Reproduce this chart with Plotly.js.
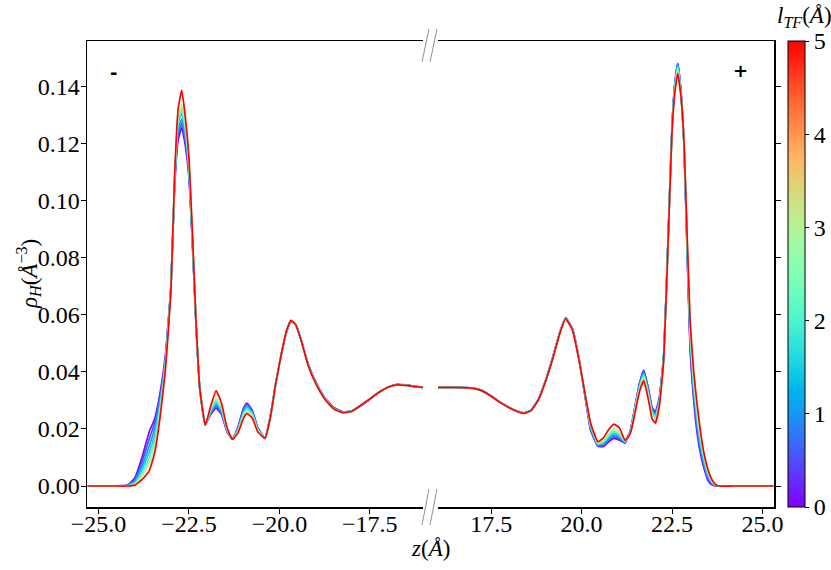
<!DOCTYPE html>
<html>
<head>
<meta charset="utf-8">
<script src="https://cdn.plot.ly/plotly-3.0.1.min.js"></script>
<style>
  html, body { margin: 0; padding: 0; background: #fff; }
  #chart { width: 831px; height: 570px; }
</style>
</head>
<body>
<div id="chart"></div>
<script>
// Thomas-Fermi screening length of each curve (Å)
var lTF = [0, 0.5, 1, 1.5, 2, 3, 5];

// z positions (Å), negative electrode side and positive electrode side
var zLeft = [-25.3, -24.6, -24.2, -24.0, -23.8, -23.6, -23.45, -23.3, -23.15, -23.0,
  -22.9, -22.8, -22.7, -22.6, -22.5, -22.4, -22.3, -22.2, -22.05, -21.9,
  -21.75, -21.6, -21.45, -21.3, -21.15, -21.0, -20.9, -20.75, -20.6, -20.4,
  -20.25, -20.1, -19.95, -19.8, -19.68, -19.55, -19.4, -19.2, -19.0, -18.75,
  -18.5, -18.25, -18.0, -17.75, -17.5, -17.25, -17.0, -16.75, -16.5, -16.25, -16.0];
var zRight = [16.0, 16.5, 17.0, 17.25, 17.5, 17.75, 18.0, 18.2, 18.4, 18.6,
  18.8, 19.0, 19.2, 19.4, 19.56, 19.75, 19.93, 20.1, 20.25, 20.45,
  20.6, 20.75, 20.9, 21.05, 21.2, 21.35, 21.5, 21.6, 21.72, 21.85,
  21.95, 22.04, 22.15, 22.27, 22.4, 22.5, 22.58, 22.66, 22.75, 22.83,
  22.9, 23.0, 23.1, 23.2, 23.3, 23.4, 23.5, 23.6, 23.7, 23.8, 24.2, 25.3];

// rho_H (Å^-3), left side, one array per lTF
var rhoL_0 = [0, 0, 0.0003, 0.0028, 0.010, 0.019, 0.0235, 0.0325, 0.046, 0.070,
  0.104, 0.121, 0.1255, 0.119, 0.108, 0.083, 0.055, 0.034, 0.0215, 0.025,
  0.0272, 0.025, 0.019, 0.0165, 0.0205, 0.027, 0.029, 0.0265, 0.0205, 0.0168,
  0.0245, 0.036, 0.046, 0.054, 0.0575, 0.0565, 0.0512, 0.0425, 0.0365, 0.031,
  0.0275, 0.026, 0.0262, 0.028, 0.0303, 0.0327, 0.0346, 0.0356, 0.0354, 0.0349, 0.0345];
var rhoL_05 = [0, 0, 0.0002, 0.0022, 0.0085, 0.0165, 0.022, 0.031, 0.045, 0.070,
  0.105, 0.123, 0.127, 0.121, 0.109, 0.084, 0.055, 0.034, 0.0215, 0.0254,
  0.0278, 0.0255, 0.0192, 0.0165, 0.0202, 0.0265, 0.0287, 0.0262, 0.0203, 0.0168,
  0.0244, 0.036, 0.046, 0.054, 0.0576, 0.0565, 0.0511, 0.0424, 0.0364, 0.0309,
  0.0274, 0.0259, 0.0262, 0.0281, 0.0304, 0.0327, 0.0346, 0.0355, 0.0353, 0.0349, 0.0345];
var rhoL_1 = [0, 0, 0.0001, 0.0017, 0.007, 0.014, 0.020, 0.030, 0.044, 0.0695,
  0.105, 0.125, 0.1285, 0.122, 0.110, 0.084, 0.0555, 0.034, 0.0214, 0.0258,
  0.0285, 0.026, 0.0194, 0.0164, 0.0198, 0.026, 0.0282, 0.0258, 0.0201, 0.0167,
  0.0243, 0.036, 0.046, 0.0542, 0.0577, 0.0565, 0.0511, 0.0423, 0.0363, 0.0308,
  0.0273, 0.0259, 0.0262, 0.0282, 0.0304, 0.0328, 0.0346, 0.0355, 0.0353, 0.0348, 0.0345];
var rhoL_15 = [0, 0, 0.0001, 0.0012, 0.0057, 0.0118, 0.018, 0.0288, 0.0435, 0.069,
  0.106, 0.127, 0.1305, 0.124, 0.111, 0.085, 0.0555, 0.034, 0.0214, 0.0262,
  0.029, 0.0265, 0.0196, 0.0164, 0.0195, 0.0255, 0.0276, 0.0254, 0.0199, 0.0167,
  0.0242, 0.036, 0.046, 0.0543, 0.0578, 0.0565, 0.0511, 0.0422, 0.0362, 0.0307,
  0.0272, 0.0258, 0.0262, 0.0282, 0.0305, 0.0328, 0.0346, 0.0355, 0.0353, 0.0348, 0.0345];
var rhoL_2 = [0, 0, 0, 0.0009, 0.0045, 0.0098, 0.016, 0.0275, 0.043, 0.069,
  0.106, 0.128, 0.132, 0.125, 0.112, 0.085, 0.056, 0.034, 0.0213, 0.0266,
  0.0298, 0.027, 0.0198, 0.0164, 0.0192, 0.025, 0.027, 0.025, 0.0197, 0.0167,
  0.0241, 0.036, 0.046, 0.0544, 0.0579, 0.0565, 0.051, 0.0421, 0.0361, 0.0306,
  0.0271, 0.0258, 0.0262, 0.0283, 0.0305, 0.0328, 0.0346, 0.0354, 0.0352, 0.0348, 0.0345];
var rhoL_3 = [0, 0, 0, 0.0006, 0.0035, 0.008, 0.0135, 0.026, 0.042, 0.0685,
  0.107, 0.129, 0.1335, 0.126, 0.113, 0.086, 0.056, 0.034, 0.0213, 0.0272,
  0.0308, 0.0277, 0.020, 0.0163, 0.019, 0.0245, 0.0265, 0.0246, 0.0195, 0.0167,
  0.024, 0.036, 0.046, 0.0545, 0.058, 0.0565, 0.051, 0.042, 0.036, 0.0305,
  0.027, 0.0257, 0.0262, 0.0283, 0.0305, 0.0328, 0.0346, 0.0354, 0.0352, 0.0348, 0.0345];
var rhoL_5 = [0, 0, 0, 0.0003, 0.0022, 0.0053, 0.0115, 0.024, 0.041, 0.068,
  0.108, 0.132, 0.1386, 0.129, 0.115, 0.087, 0.056, 0.034, 0.0213, 0.028,
  0.0334, 0.029, 0.0205, 0.0163, 0.0185, 0.0235, 0.0254, 0.0238, 0.019, 0.0167,
  0.024, 0.036, 0.046, 0.0545, 0.058, 0.0565, 0.051, 0.042, 0.036, 0.0305,
  0.027, 0.0257, 0.0262, 0.0283, 0.0305, 0.0328, 0.0346, 0.0354, 0.0352, 0.0348, 0.0345];

// rho_H (Å^-3), right side
var rhoR_0 = [0.0345, 0.0345, 0.0343, 0.0334, 0.0315, 0.0293, 0.0275, 0.0263, 0.0256, 0.0265,
  0.0302, 0.0368, 0.045, 0.054, 0.059, 0.055, 0.0445, 0.031, 0.0195, 0.014,
  0.0138, 0.0155, 0.0167, 0.016, 0.015, 0.0195, 0.0295, 0.036, 0.0406, 0.034,
  0.0275, 0.026, 0.031, 0.046, 0.090, 0.126, 0.141, 0.1478, 0.138, 0.120,
  0.090, 0.048, 0.030, 0.018, 0.0105, 0.0055, 0.0018, 0.0004, 0, 0, 0, 0];
var rhoR_05 = [0.0345, 0.0345, 0.0343, 0.0334, 0.0315, 0.0293, 0.0275, 0.0263, 0.0256, 0.0265,
  0.0302, 0.0368, 0.0449, 0.0539, 0.0589, 0.0549, 0.0444, 0.0312, 0.0198, 0.0142,
  0.0142, 0.016, 0.0172, 0.0165, 0.0152, 0.0194, 0.0292, 0.0356, 0.0402, 0.0335,
  0.027, 0.0255, 0.0305, 0.0457, 0.0897, 0.1257, 0.1412, 0.148, 0.1378, 0.1202,
  0.0908, 0.0495, 0.0315, 0.0195, 0.0115, 0.0063, 0.0024, 0.0007, 0.0001, 0, 0, 0];
var rhoR_1 = [0.0345, 0.0345, 0.0343, 0.0334, 0.0315, 0.0293, 0.0275, 0.0263, 0.0255, 0.0265,
  0.0302, 0.0367, 0.0448, 0.0538, 0.0588, 0.0548, 0.0443, 0.0314, 0.0203, 0.0144,
  0.0146, 0.0165, 0.0178, 0.017, 0.0153, 0.0192, 0.0289, 0.0352, 0.0397, 0.033,
  0.0265, 0.025, 0.030, 0.0453, 0.0894, 0.1253, 0.1408, 0.1477, 0.1375, 0.1204,
  0.0916, 0.051, 0.033, 0.021, 0.0127, 0.0071, 0.003, 0.001, 0.0002, 0, 0, 0];
var rhoR_15 = [0.0345, 0.0345, 0.0343, 0.0334, 0.0315, 0.0293, 0.0275, 0.0263, 0.0255, 0.0265,
  0.0301, 0.0367, 0.0447, 0.0537, 0.0587, 0.0547, 0.0442, 0.0316, 0.0208, 0.0146,
  0.015, 0.017, 0.0185, 0.0175, 0.0155, 0.0191, 0.0286, 0.0348, 0.0392, 0.0325,
  0.026, 0.0245, 0.0295, 0.045, 0.089, 0.125, 0.1402, 0.147, 0.137, 0.1206,
  0.0924, 0.0525, 0.0345, 0.0225, 0.0139, 0.0079, 0.0036, 0.0013, 0.0003, 0, 0, 0];
var rhoR_2 = [0.0345, 0.0345, 0.0342, 0.0333, 0.0314, 0.0292, 0.0274, 0.0262, 0.0255, 0.0264,
  0.0301, 0.0366, 0.0446, 0.0536, 0.0586, 0.0546, 0.0441, 0.0318, 0.0212, 0.0148,
  0.0154, 0.0176, 0.0192, 0.018, 0.0156, 0.019, 0.0283, 0.0344, 0.0387, 0.032,
  0.0255, 0.024, 0.029, 0.0447, 0.0887, 0.1247, 0.1396, 0.1465, 0.1367, 0.1207,
  0.0932, 0.054, 0.036, 0.024, 0.015, 0.0087, 0.0042, 0.0016, 0.0004, 0, 0, 0];
var rhoR_3 = [0.0345, 0.0345, 0.0342, 0.0333, 0.0314, 0.0292, 0.0274, 0.0262, 0.0254, 0.0264,
  0.030, 0.0366, 0.0446, 0.0536, 0.0586, 0.0546, 0.0441, 0.0319, 0.0216, 0.015,
  0.0158, 0.0182, 0.020, 0.0187, 0.0158, 0.0188, 0.028, 0.034, 0.038, 0.0313,
  0.025, 0.023, 0.0288, 0.0444, 0.0884, 0.1244, 0.139, 0.146, 0.1364, 0.1208,
  0.094, 0.0555, 0.0375, 0.0255, 0.0162, 0.0095, 0.0048, 0.0019, 0.0005, 0, 0, 0];
var rhoR_5 = [0.0345, 0.0345, 0.0342, 0.0333, 0.0314, 0.0292, 0.0274, 0.0262, 0.0254, 0.0264,
  0.030, 0.0365, 0.0445, 0.0535, 0.0585, 0.0545, 0.044, 0.032, 0.022, 0.0155,
  0.0168, 0.0198, 0.0217, 0.0203, 0.016, 0.0185, 0.027, 0.033, 0.0369, 0.030,
  0.0235, 0.022, 0.028, 0.044, 0.088, 0.124, 0.138, 0.1445, 0.136, 0.121,
  0.095, 0.058, 0.040, 0.028, 0.018, 0.0105, 0.0055, 0.0023, 0.0006, 0, 0, 0];

var leftSets = [rhoL_0, rhoL_05, rhoL_1, rhoL_15, rhoL_2, rhoL_3, rhoL_5];
var rightSets = [rhoR_0, rhoR_05, rhoR_1, rhoR_15, rhoR_2, rhoR_3, rhoR_5];

var yTicks = [0, 0.02, 0.04, 0.06, 0.08, 0.10, 0.12, 0.14];
var xTicksL = [-25, -22.5, -20, -17.5];
var xTickTextL = ["\u221225.0", "\u221222.5", "\u221220.0", "\u221217.5"];
var xTicksR = [17.5, 20, 22.5, 25];
var xTickTextR = ["17.5", "20.0", "22.5", "25.0"];
var cbTicks = [0, 1, 2, 3, 4, 5];

// matplotlib "rainbow" colormap
function rainbow(t) {
  var r = Math.min(1, Math.abs(2 * t - 0.5));
  var g = Math.sin(Math.PI * t);
  var b = Math.cos(Math.PI * t / 2);
  return "rgb(" + Math.round(r * 255) + "," + Math.round(g * 255) + "," + Math.round(b * 255) + ")";
}
var cscale = [];
for (var k = 0; k <= 20; k++) cscale.push([k / 20, rainbow(k / 20)]);

var serif = "Liberation Serif";
var lmax = 5;
var traces = [];
for (var i = 0; i < lTF.length; i++) {
  var col = rainbow(lTF[i] / lmax);
  traces.push({x: zLeft, y: leftSets[i], xaxis: "x", yaxis: "y", type: "scatter", mode: "lines",
    line: {color: col, width: 1.7, shape: "spline", smoothing: 0.4}, showlegend: false, hoverinfo: "skip"});
  traces.push({x: zRight, y: rightSets[i], xaxis: "x2", yaxis: "y2", type: "scatter", mode: "lines",
    line: {color: col, width: 1.7, shape: "spline", smoothing: 0.4}, showlegend: false, hoverinfo: "skip"});
}

// plot area: x 87..774 px, y 41..507 px
var L = 87, R = 774, T = 41, B = 507;
function px(x) { return (x - L) / (R - L); }
function py(y) { return (B - y) / (B - T); }

// invisible trace that carries the colorbar
traces.push({x: [zRight[0], zRight[0]], y: [rhoR_5[0], rhoR_5[0]], xaxis: "x2", yaxis: "y2",
  type: "scatter", mode: "markers", showlegend: false, hoverinfo: "skip",
  marker: {size: 1, opacity: 0, color: [lTF[0], lTF[lTF.length - 1]], colorscale: cscale,
    cmin: 0, cmax: 5, showscale: true,
    colorbar: {x: px(788), xanchor: "left", y: 0.5, yanchor: "middle", len: 1, lenmode: "fraction",
      thickness: 17, thicknessmode: "pixels", xpad: 0, ypad: 0, outlinewidth: 1, outlinecolor: "black",
      ticks: "outside", ticklen: 4, tickcolor: "black", tickvals: cbTicks,
      tickfont: {family: serif, size: 24, color: "black"}}}});

var breakStyle = {color: "#909090", width: 1};
var shapes = [
  [422, 62, 429, 29], [430, 62, 437, 29],
  [422, 525, 429, 489], [430, 525, 437, 489]
].map(function (s) {
  return {type: "line", xref: "paper", yref: "paper", x0: px(s[0]), y0: py(s[1]), x1: px(s[2]), y1: py(s[3]), line: breakStyle};
});

var axisCommon = {
  showgrid: false, zeroline: false, showline: true, linecolor: "black", linewidth: 1.5,
  ticks: "outside", ticklen: 5, tickwidth: 1, tickcolor: "black",
  tickfont: {family: serif, size: 24, color: "black"}
};

function label(x, y, text, extra) {
  return Object.assign({xref: "paper", yref: "paper", x: px(x), y: py(y), xanchor: "center", yanchor: "middle",
    text: text, showarrow: false, font: {family: serif, size: 23, color: "black"}}, extra || {});
}

var layout = {
  width: 831, height: 570,
  margin: {l: L, r: 831 - R, t: T, b: 570 - B, autoexpand: false},
  paper_bgcolor: "white", plot_bgcolor: "white",
  xaxis: Object.assign({}, axisCommon, {domain: [0, px(423)], range: [-25.32, -16.03], anchor: "y",
    mirror: true, tickvals: xTicksL, ticktext: xTickTextL, ticklabelstandoff: -10}),
  xaxis2: Object.assign({}, axisCommon, {domain: [px(438), 1], range: [16.03, 25.32], anchor: "y2",
    mirror: true, tickvals: xTicksR, ticktext: xTickTextR, ticklabelstandoff: -10}),
  yaxis: Object.assign({}, axisCommon, {range: [-0.00735, 0.1558], anchor: "x", tickvals: yTicks,
    tickformat: ".2f", ticklabelstandoff: -4}),
  yaxis2: Object.assign({}, axisCommon, {range: [-0.00735, 0.1558], anchor: "x2", side: "right",
    tickvals: yTicks, showticklabels: false}),
  shapes: shapes,
  annotations: [
    label(113, 72, "<b>-</b>", {font: {family: "DejaVu Sans", size: 18, color: "black"}}),
    label(740, 71, "<b>+</b>", {font: {family: "DejaVu Sans", size: 18, color: "black"}}),
    label(430, 548, "<i>z</i>(<i>Å</i>)"),
    label(28, 274, "<i>ρ<sub>H</sub></i>(<i>Å</i><sup>−3</sup>)", {textangle: -90}),
    label(804, 17, "<i>l<sub>TF</sub></i>(<i>Å</i>)")
  ]
};

Plotly.newPlot("chart", traces, layout, {displayModeBar: false, staticPlot: true});
</script>
</body>
</html>
